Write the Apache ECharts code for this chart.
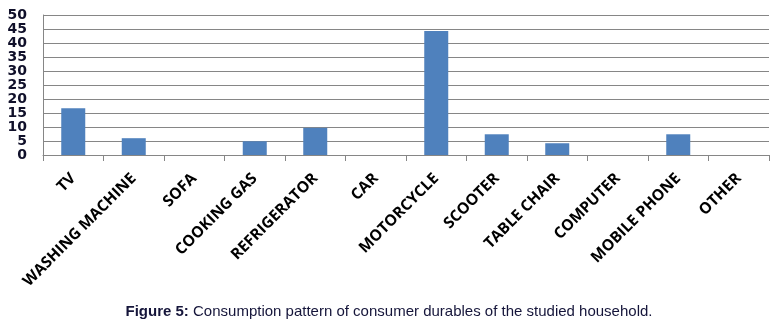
<!DOCTYPE html>
<html>
<head>
<meta charset="utf-8">
<script src="https://cdn.jsdelivr.net/npm/echarts@6/dist/echarts.min.js"></script>
<style>
  html, body { margin: 0; padding: 0; background: #fff; }
  #chart { width: 778px; height: 327px; }
</style>
</head>
<body>
<div id="chart"></div>
<script>
// data
const categories = ['TV', 'WASHING MACHINE', 'SOFA', 'COOKING GAS', 'REFRIGERATOR', 'CAR',
  'MOTORCYCLE', 'SCOOTER', 'TABLE CHAIR', 'COMPUTER', 'MOBILE PHONE', 'OTHER']
const values = [16.7, 6.0, 0, 4.9, 9.7, 0, 44.3, 7.4, 4.2, 0, 7.4, 0]
const yTicks = [0, 5, 10, 15, 20, 25, 30, 35, 40, 45, 50]

const chart = echarts.init(document.getElementById('chart'))

const option = {
  animation: false,
  title: {
    left: 'center',
    top: 299,
    text: '{b|Figure 5:} Consumption pattern of consumer durables of the studied household.',
    textStyle: {
      fontFamily: 'Liberation Sans',
      fontSize: 15,
      fontWeight: 'normal',
      color: '#15153a',
      rich: {
        b: { fontFamily: 'Liberation Sans', fontSize: 15, fontWeight: 'bold', color: '#15153a' }
      }
    }
  },
  grid: {
    left: 43,
    right: 9,
    top: 15,
    bottom: 172,
    containLabel: false
  },
  xAxis: {
    type: 'category',
    data: categories,
    axisLine: { lineStyle: { color: '#868686', width: 1 } },
    axisTick: { show: true, length: 6, lineStyle: { color: '#868686' } },
    axisLabel: {
      interval: 0,
      rotate: 45,
      margin: 21,
      fontFamily: 'Open Sans',
      fontWeight: 'bold',
      fontSize: 15.5,
      color: '#000'
    }
  },
  yAxis: {
    type: 'value',
    min: yTicks[0],
    max: yTicks[yTicks.length - 1],
    interval: 5,
    axisLine: { show: true, lineStyle: { color: '#868686', width: 1 } },
    axisTick: { show: false },
    splitLine: { lineStyle: { color: '#868686', width: 1 } },
    axisLabel: {
      margin: 16,
      fontFamily: 'DejaVu Sans',
      fontWeight: 'bold',
      fontSize: 14,
      color: '#10102a'
    }
  },
  series: [
    {
      type: 'bar',
      data: values,
      barWidth: 24,
      itemStyle: {
        color: '#4f81bd'
      }
    }
  ]
}

chart.setOption(option)
</script>
</body>
</html>
